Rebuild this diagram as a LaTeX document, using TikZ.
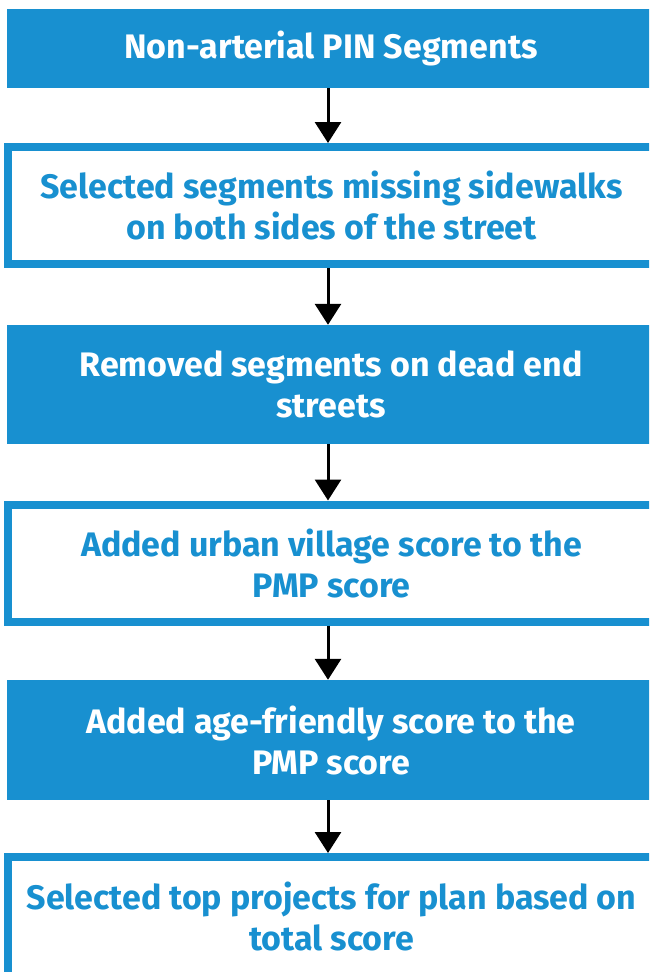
\documentclass[tikz,border=0pt]{standalone}
\usepackage{fontspec}
\setmainfont{Fira Sans}
\usetikzlibrary{arrows.meta}
\definecolor{stepblue}{RGB}{24,144,208}

\begin{document}
\begin{tikzpicture}[x=1pt,y=1pt]
  \tikzset{fillbox/.style = {shape=rectangle,fill=stepblue,text=white,minimum width=648pt,inner sep=0pt,align=center,font=\fontsize{34}{41}\selectfont\bfseries}}
  \tikzset{linebox/.style = {shape=rectangle,draw=stepblue,line width=8pt,text=stepblue,minimum width=648pt,minimum height=117pt,inner sep=0pt,align=center,font=\fontsize{34}{41}\selectfont\bfseries}}
  \tikzset{flow/.style = {line width=3pt,-{Triangle[width=26pt,length=21pt]}}}

  \useasboundingbox (0,0) rectangle (649,-972);
  \clip (0,0) rectangle (649,-972);

	\node[fillbox,minimum height=79pt] (pin) at (331,-48.5) {Non-arterial PIN Segments};
	\node[linebox] (missing) at (331.5,-205.5) {Selected segments missing sidewalks\\on both sides of the street};
	\node[fillbox,minimum height=119pt] (deadend) at (331,-384.5) {Removed segments on dead end\\streets};
	\node[linebox] (urban) at (331.5,-563) {Added urban village score to the\\PMP score};
	\node[fillbox,minimum height=120pt] (age) at (331,-740) {Added age-friendly score to the\\PMP score};
	\node[linebox,minimum height=140pt,text depth=22pt] (top) at (331.5,-927) {Selected top projects for plan based on\\total score};

    \foreach \from/\to in {pin/missing, missing/deadend, deadend/urban, urban/age, age/top}
    \draw[flow] (\from.south -| 328,0) -- (\to.north -| 328,0);
\end{tikzpicture}
\end{document}
